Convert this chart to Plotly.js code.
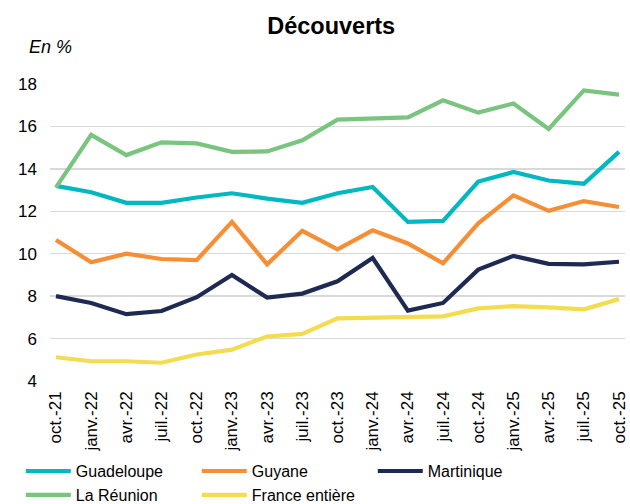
<!DOCTYPE html>
<html>
<head>
<meta charset="utf-8">
<script src="https://cdn.plot.ly/plotly-3.0.1.min.js"></script>
<style>html,body{margin:0;padding:0;background:#fff;}#chart{width:630px;height:504px;}</style>
</head>
<body>
<div id="chart"></div>
<script>
const categories = ["oct.-21","janv.-22","avr.-22","juil.-22","oct.-22","janv.-23","avr.-23","juil.-23","oct.-23","janv.-24","avr.-24","juil.-24","oct.-24","janv.-25","avr.-25","juil.-25","oct.-25"];
const guadeloupe = [13.2,12.9,12.4,12.4,12.65,12.85,12.6,12.4,12.85,13.15,11.5,11.55,13.4,13.85,13.45,13.3,14.8];
const guyane = [10.65,9.6,10.0,9.75,9.7,11.5,9.5,11.08,10.2,11.1,10.48,9.55,11.43,12.75,12.02,12.48,12.2];
const martinique = [8.0,7.68,7.15,7.3,7.95,9.0,7.93,8.12,8.7,9.8,7.32,7.68,9.25,9.9,9.52,9.5,9.62];
const reunion = [13.13,15.6,14.65,15.25,15.2,14.8,14.82,15.35,16.32,16.36,16.43,17.23,16.65,17.08,15.88,17.7,17.5];
const france = [5.12,4.93,4.93,4.86,5.25,5.48,6.1,6.22,6.95,6.98,7.0,7.05,7.42,7.53,7.47,7.38,7.86];

const seriesNames = ["Guadeloupe","Guyane","Martinique","La Réunion","France entière"];
const seriesData = [guadeloupe, guyane, martinique, reunion, france];
const colors = ["#00B8C2","#F68E36","#1E2A52","#79C47E","#F3DC4F"];

const font = "Liberation Sans, Arial, sans-serif";
const traces = seriesData.map((d,i)=>({
  x: categories, y: d, name: seriesNames[i], type:"scatter", mode:"lines",
  line:{color:colors[i], width:4.2}, cliponaxis:false
}));

const layout = {
  width:630, height:504,
  margin:{l:50, r:5, t:84, b:123},
  paper_bgcolor:"#fff", plot_bgcolor:"#fff",
  font:{family:font, color:"#000"},
  title:{text:"<b>Découverts</b>", font:{size:23.5, family:font, color:"#000"}, x:0.489, xanchor:"center", y:0.948, yanchor:"middle", xref:"paper"},
  showlegend:true,
  legend:{orientation:"h", xref:"container", yref:"container", x:0.033, y:0.099, xanchor:"left", yanchor:"top",
    entrywidth:116, entrywidthmode:"pixels", font:{size:16, family:font}, tracegroupgap:0, traceorder:"normal", itemwidth:45},
  xaxis:{type:"category", range:[-0.17,16.17], tickangle:-90, tickfont:{size:17, family:font},
    showgrid:false, zeroline:false, showline:false, ticks:"", fixedrange:true, ticklabelstandoff:6},
  yaxis:{range:[4,18], dtick:2, tick0:4, tickfont:{size:17, family:font}, gridcolor:"#D9D9D9", gridwidth:1.5,
    zeroline:false, showline:false, ticks:"", ticklabelstandoff:12},
  annotations:[{text:"<i>En %</i>", xref:"paper", yref:"paper", x:-0.04, y:1.125, xanchor:"left", yanchor:"middle",
    showarrow:false, font:{size:18, family:font, color:"#000"}}]
};
Plotly.newPlot("chart", traces, layout, {displayModeBar:false, staticPlot:true});
</script>
</body>
</html>
